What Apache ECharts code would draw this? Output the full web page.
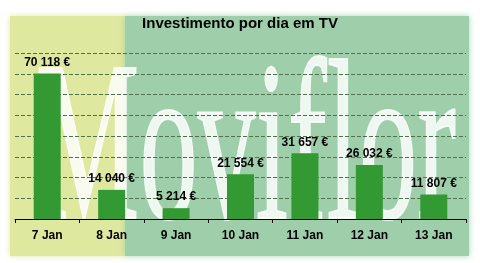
<!DOCTYPE html>
<html><head><meta charset="utf-8">
<script src="https://cdn.jsdelivr.net/npm/echarts@6/dist/echarts.min.js"></script>
<style>html,body{margin:0;padding:0;background:#fff}#c{width:480px;height:263px}</style>
</head><body><div id="c"></div>
<script>
const categories = ['7 Jan','8 Jan','9 Jan','10 Jan','11 Jan','12 Jan','13 Jan'];
const values = [70118, 14040, 5214, 21554, 31657, 26032, 11807];
const titleText = 'Investimento por dia em TV';
const watermark = 'Moviflor';

function fmt(v){ return String(v).replace(/\B(?=(\d{3})+(?!\d))/g,' ') + ' €'; }

const chart = echarts.init(document.getElementById('c'), null, {renderer:'canvas'});
chart.setOption({
  animation:false,
  backgroundColor:'#ffffff',
  title:{text:titleText,left:'center',top:16,padding:0,textStyle:{fontFamily:'Liberation Sans, Arial',fontSize:15,fontWeight:'bold',color:'#000'}},
  graphic:[
    {type:'rect',z:-20,shape:{x:10,y:16,width:116,height:240},style:{fill:'#dfe89f',shadowBlur:6,shadowColor:'rgba(223,232,159,0.9)'}},
    {type:'rect',z:-20,shape:{x:125,y:16,width:344,height:240},style:{fill:'#9fcfaa',shadowBlur:6,shadowColor:'rgba(159,207,170,0.9)'}},
    {type:'text',z:-10,x:36,y:272,scaleX:0.51,scaleY:1,
     style:{text:watermark,fontFamily:'Liberation Serif, Times New Roman, serif',fontSize:228,fill:'rgba(255,255,255,0.82)',stroke:'rgba(255,255,255,0.82)',lineWidth:2,verticalAlign:'bottom'}}
  ],
  grid:{left:15,right:14,top:53,bottom:44,containLabel:false},
  xAxis:{type:'category',data:categories,
    axisLine:{lineStyle:{color:'#000',width:1}},
    axisTick:{show:true,length:4,lineStyle:{color:'#000'}},
    axisLabel:{color:'#000',fontFamily:'Liberation Sans, Arial',fontSize:12,fontWeight:'bold',margin:11}},
  yAxis:{type:'value',min:0,max:80000,interval:10000,
    axisLine:{show:false},axisTick:{show:false},axisLabel:{show:false},
    splitLine:{show:true,lineStyle:{color:'#4e714e',width:1,type:[4,2]}}},
  series:[{type:'bar',data:values,barWidth:27,itemStyle:{color:'#339a33'},z:5,
    label:{show:true,position:'top',distance:5,formatter:p=>fmt(p.value),
      color:'#000',fontFamily:'Liberation Sans, Arial',fontSize:12,fontWeight:'bold'}}]
});
</script></body></html>
